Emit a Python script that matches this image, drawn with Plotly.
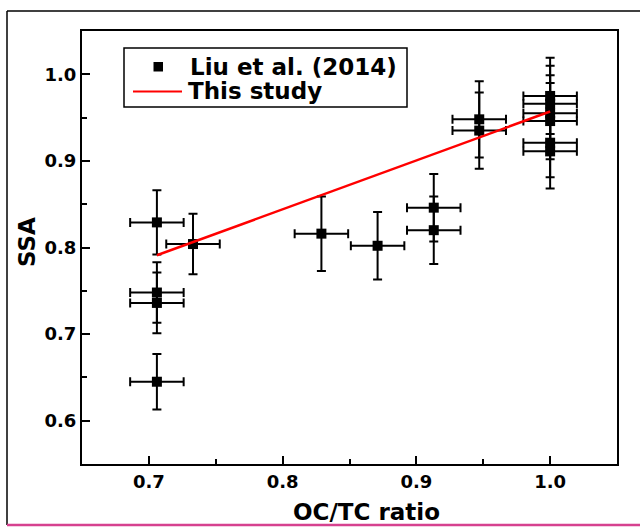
import plotly.graph_objects as go

# Liu et al. (2014) data points
liu_x = [0.706, 0.733, 0.706, 0.706, 0.706, 0.829, 0.871, 0.913, 0.913,
         0.947, 0.947, 1.0, 1.0, 1.0, 1.0, 1.0, 1.0]
liu_y = [0.829, 0.804, 0.748, 0.736, 0.645, 0.816, 0.802, 0.846, 0.820,
         0.948, 0.935, 0.975, 0.966, 0.955, 0.946, 0.921, 0.911]
liu_yerr = [0.037, 0.035, 0.035, 0.035, 0.032, 0.043, 0.039, 0.039, 0.039,
            0.044, 0.044, 0.044, 0.044, 0.044, 0.044, 0.040, 0.043]
liu_xerr = [0.02] * len(liu_x)

# This study fit line
fit_x = [0.706, 1.0]
fit_y = [0.791, 0.957]

x_ticks = [0.7, 0.8, 0.9, 1.0]
x_ticklabels = ["0.7", "0.8", "0.9", "1.0"]
y_ticks = [0.6, 0.7, 0.8, 0.9, 1.0]
y_ticklabels = ["0.6", "0.7", "0.8", "0.9", "1.0"]
legend_names = ["Liu et al. (2014)", "This study"]

FONT = "DejaVu Sans"
W, H = 640, 527
L, R, T, B = 82, 617, 31, 464  # plot area in pixels


def px(x):
    return (x - L) / (R - L)


def py(y):
    return (B - y) / (B - T)


fig = go.Figure()
fig.add_trace(go.Scatter(
    x=liu_x, y=liu_y, mode="markers", name=legend_names[0], showlegend=False,
    marker=dict(symbol="square", size=10, color="black"),
    error_y=dict(type="data", array=liu_yerr, color="black", thickness=2, width=4.5),
    error_x=dict(type="data", array=liu_xerr, color="black", thickness=2, width=4.5),
))
fig.add_trace(go.Scatter(
    x=fit_x, y=fit_y, mode="lines", name=legend_names[1], showlegend=False,
    line=dict(color="#ff0000", width=2.5),
))

axis_common = dict(
    showline=True, linecolor="black", linewidth=2, mirror=True,
    ticks="inside", ticklen=8, tickwidth=2, tickcolor="black",
    showgrid=False, zeroline=False,
    tickfont=dict(family=FONT, size=18, color="black", weight="bold"),
    minor=dict(ticks="inside", ticklen=5, tickwidth=2, tickcolor="black", dtick=0.05),
)

title_font = dict(family=FONT, size=23, color="black", weight="bold")
legend_font = dict(family=FONT, size=23, color="black", weight="bold")

fig.update_layout(
    width=W, height=H,
    margin=dict(l=L, r=W - R, t=T, b=H - B),
    paper_bgcolor="white", plot_bgcolor="white",
    showlegend=False,
    xaxis=dict(range=[0.65, 1.05], tickvals=x_ticks, ticktext=x_ticklabels, **axis_common),
    yaxis=dict(range=[0.55, 1.05], tickvals=y_ticks, ticktext=y_ticklabels, **axis_common),
    annotations=[
        dict(text="OC/TC ratio", xref="paper", yref="paper",
             x=px(366), y=py(512), xanchor="center", yanchor="middle",
             showarrow=False, font=title_font),
        dict(text="SSA", xref="paper", yref="paper", textangle=-90,
             x=px(27), y=py(242), xanchor="center", yanchor="middle",
             showarrow=False, font=title_font),
        # legend texts
        dict(text=legend_names[0], xref="paper", yref="paper",
             x=px(188), y=py(67), xanchor="left", yanchor="middle",
             showarrow=False, font=legend_font),
        dict(text=legend_names[1], xref="paper", yref="paper",
             x=px(186), y=py(91), xanchor="left", yanchor="middle",
             showarrow=False, font=legend_font),
    ],
    shapes=[
        # outer frame: top and left in black, bottom in pink
        dict(type="line", xref="paper", yref="paper",
             x0=px(7), x1=px(645), y0=py(11), y1=py(11),
             line=dict(color="black", width=1.5)),
        dict(type="line", xref="paper", yref="paper",
             x0=px(7), x1=px(7), y0=py(11), y1=py(525),
             line=dict(color="black", width=1.5)),
        dict(type="line", xref="paper", yref="paper",
             x0=px(7), x1=px(645), y0=py(525), y1=py(525),
             line=dict(color="#d6418f", width=2.5)),
        # legend box
        dict(type="rect", xref="paper", yref="paper",
             x0=px(124), x1=px(407), y0=py(48), y1=py(107),
             line=dict(color="black", width=1.5), fillcolor="white", layer="above"),
        # legend symbol: square marker
        dict(type="rect", xref="paper", yref="paper",
             x0=px(153.5), x1=px(163), y0=py(62), y1=py(71.5),
             line=dict(width=0), fillcolor="black", layer="above"),
        # legend symbol: red line
        dict(type="line", xref="paper", yref="paper",
             x0=px(133), x1=px(182), y0=py(91.5), y1=py(91.5),
             line=dict(color="#ff0000", width=1.8), layer="above"),
    ],
)

fig.write_html("out.html")
